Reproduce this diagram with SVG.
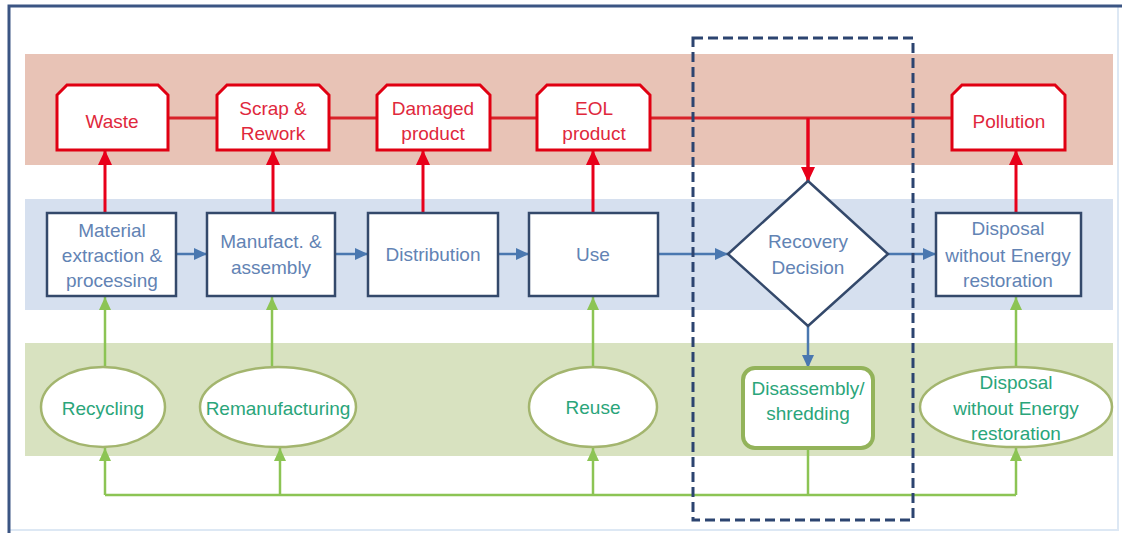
<svg xmlns="http://www.w3.org/2000/svg" width="1122" height="533" viewBox="0 0 1122 533">
<defs>
<style>
text{font-family:"Liberation Sans",Arial,sans-serif;font-size:19px;text-anchor:middle}
.rt{fill:#e0283c}
.bt{fill:#6283b4}
.gt{fill:#2aa57a}
.rnode{fill:#fff;stroke:#e00012;stroke-width:3}
.bnode{fill:#fff;stroke:#34496b;stroke-width:2.5}
.gell{fill:#fff;stroke:#a3b56e;stroke-width:2.5}
.rl{fill:none;stroke:#d8232a;stroke-width:3}
.ra{fill:none;stroke:#e8001a;stroke-width:3}
.bl{fill:none;stroke:#4a78b0;stroke-width:2.5}
.gl{fill:none;stroke:#8cc454;stroke-width:2.5}
</style>
<marker id="mr" markerUnits="userSpaceOnUse" markerWidth="16" markerHeight="16" refX="14" refY="8" orient="auto"><path d="M0,1 L15,8 L0,15 Z" fill="#e8001a"/></marker>
<marker id="mb" markerUnits="userSpaceOnUse" markerWidth="14" markerHeight="14" refX="13" refY="7" orient="auto"><path d="M0,1 L13,7 L0,13 Z" fill="#4a78b0"/></marker>
<marker id="mg" markerUnits="userSpaceOnUse" markerWidth="14" markerHeight="14" refX="13" refY="7" orient="auto"><path d="M0,1 L13,7 L0,13 Z" fill="#8cc454"/></marker>
</defs>
<rect x="0" y="0" width="1122" height="533" fill="#fff"/>
<rect x="9" y="6" width="1109" height="524" fill="#fff" stroke="#dde8f4" stroke-width="2"/>
<path d="M9,533 L9,6 L1122,6" fill="none" stroke="#3b5583" stroke-width="3"/>
<rect x="25" y="54" width="1088" height="111" fill="#e8c3b6"/>
<rect x="25" y="199" width="1088" height="111" fill="#d6e0ef"/>
<rect x="25" y="343" width="1088" height="113" fill="#d8e2c0"/>
<g id="connectors">
<path class="rl" d="M168,118 H217 M329,118 H377 M490,118 H537 M650,118 H952 M808,118 V181" />
<path class="ra" d="M808,118 V181" marker-end="url(#mr)"/>
<path class="ra" d="M105,213 V151" marker-end="url(#mr)"/>
<path class="ra" d="M273,213 V151" marker-end="url(#mr)"/>
<path class="ra" d="M423,213 V151" marker-end="url(#mr)"/>
<path class="ra" d="M593,213 V151" marker-end="url(#mr)"/>
<path class="ra" d="M1016,213 V151" marker-end="url(#mr)"/>
<path class="bl" d="M176,254 H207" marker-end="url(#mb)"/>
<path class="bl" d="M335,254 H368" marker-end="url(#mb)"/>
<path class="bl" d="M498,254 H529" marker-end="url(#mb)"/>
<path class="bl" d="M658,254 H728" marker-end="url(#mb)"/>
<path class="bl" d="M888,254 H936" marker-end="url(#mb)"/>
<path class="bl" d="M808,326 V368" marker-end="url(#mb)"/>
<path class="gl" d="M105,367 V297" marker-end="url(#mg)"/>
<path class="gl" d="M272,367 V297" marker-end="url(#mg)"/>
<path class="gl" d="M593,367 V297" marker-end="url(#mg)"/>
<path class="gl" d="M1016,367 V297" marker-end="url(#mg)"/>
<path class="gl" d="M105,495 H1016" stroke-width="3"/>
<path class="gl" d="M808,448 V495" stroke-width="4"/>
<path class="gl" d="M105,495 V448" marker-end="url(#mg)"/>
<path class="gl" d="M280,495 V448" marker-end="url(#mg)"/>
<path class="gl" d="M593,495 V448" marker-end="url(#mg)"/>
<path class="gl" d="M1016,495 V448" marker-end="url(#mg)"/>
</g>
<g id="waste"><path class="rnode" d="M57,150 V95 L67,85 H158 L168,95 V150 Z"/><text class="rt" x="112" y="128">Waste</text></g>
<g id="scrap"><path class="rnode" d="M217,150 V95 L227,85 H319 L329,95 V150 Z"/><text class="rt" x="273" y="115">Scrap &amp;</text><text class="rt" x="273" y="140">Rework</text></g>
<g id="damaged"><path class="rnode" d="M377,150 V95 L387,85 H480 L490,95 V150 Z"/><text class="rt" x="433" y="115">Damaged</text><text class="rt" x="433" y="140">product</text></g>
<g id="eol"><path class="rnode" d="M537,150 V95 L547,85 H640 L650,95 V150 Z"/><text class="rt" x="594" y="115">EOL</text><text class="rt" x="594" y="140">product</text></g>
<g id="pollution"><path class="rnode" d="M952,150 V95 L962,85 H1055 L1065,95 V150 Z"/><text class="rt" x="1009" y="128">Pollution</text></g>
<g id="material"><rect class="bnode" x="47" y="213" width="129" height="83"/><text class="bt" x="112" y="237">Material</text><text class="bt" x="112" y="262">extraction &amp;</text><text class="bt" x="112" y="287">processing</text></g>
<g id="manufact"><rect class="bnode" x="207" y="213" width="128" height="83"/><text class="bt" x="271" y="248">Manufact. &amp;</text><text class="bt" x="271" y="274">assembly</text></g>
<g id="distribution"><rect class="bnode" x="368" y="213" width="130" height="83"/><text class="bt" x="433" y="261">Distribution</text></g>
<g id="use"><rect class="bnode" x="529" y="213" width="129" height="83"/><text class="bt" x="593" y="261">Use</text></g>
<g id="recovery"><path class="bnode" d="M808,181 L888,254 L808,326 L728,254 Z"/><text class="bt" x="808" y="248">Recovery</text><text class="bt" x="808" y="274">Decision</text></g>
<g id="disposal-box"><rect class="bnode" x="936" y="213" width="145" height="83"/><text class="bt" x="1008" y="235">Disposal</text><text class="bt" x="1008" y="262">without Energy</text><text class="bt" x="1008" y="287">restoration</text></g>
<g id="recycling"><ellipse class="gell" cx="103" cy="407" rx="62" ry="40"/><text class="gt" x="103" y="415">Recycling</text></g>
<g id="remanufacturing"><ellipse class="gell" cx="278" cy="407" rx="78" ry="40"/><text class="gt" x="278" y="415">Remanufacturing</text></g>
<g id="reuse"><ellipse class="gell" cx="593" cy="407" rx="64" ry="40"/><text class="gt" x="593" y="414">Reuse</text></g>
<g id="disassembly"><rect x="743" y="368" width="130" height="80" rx="12" fill="#fff" stroke="#93b35a" stroke-width="4"/><text class="gt" x="808" y="395">Disassembly/</text><text class="gt" x="808" y="420">shredding</text></g>
<g id="disposal-ellipse"><ellipse class="gell" cx="1016" cy="407" rx="96" ry="40"/><text class="gt" x="1016" y="389">Disposal</text><text class="gt" x="1016" y="415">without Energy</text><text class="gt" x="1016" y="440">restoration</text></g>
<rect id="boundary" x="693" y="38" width="220" height="482" fill="none" stroke="#2c4470" stroke-width="3" stroke-dasharray="10,5"/>
</svg>
